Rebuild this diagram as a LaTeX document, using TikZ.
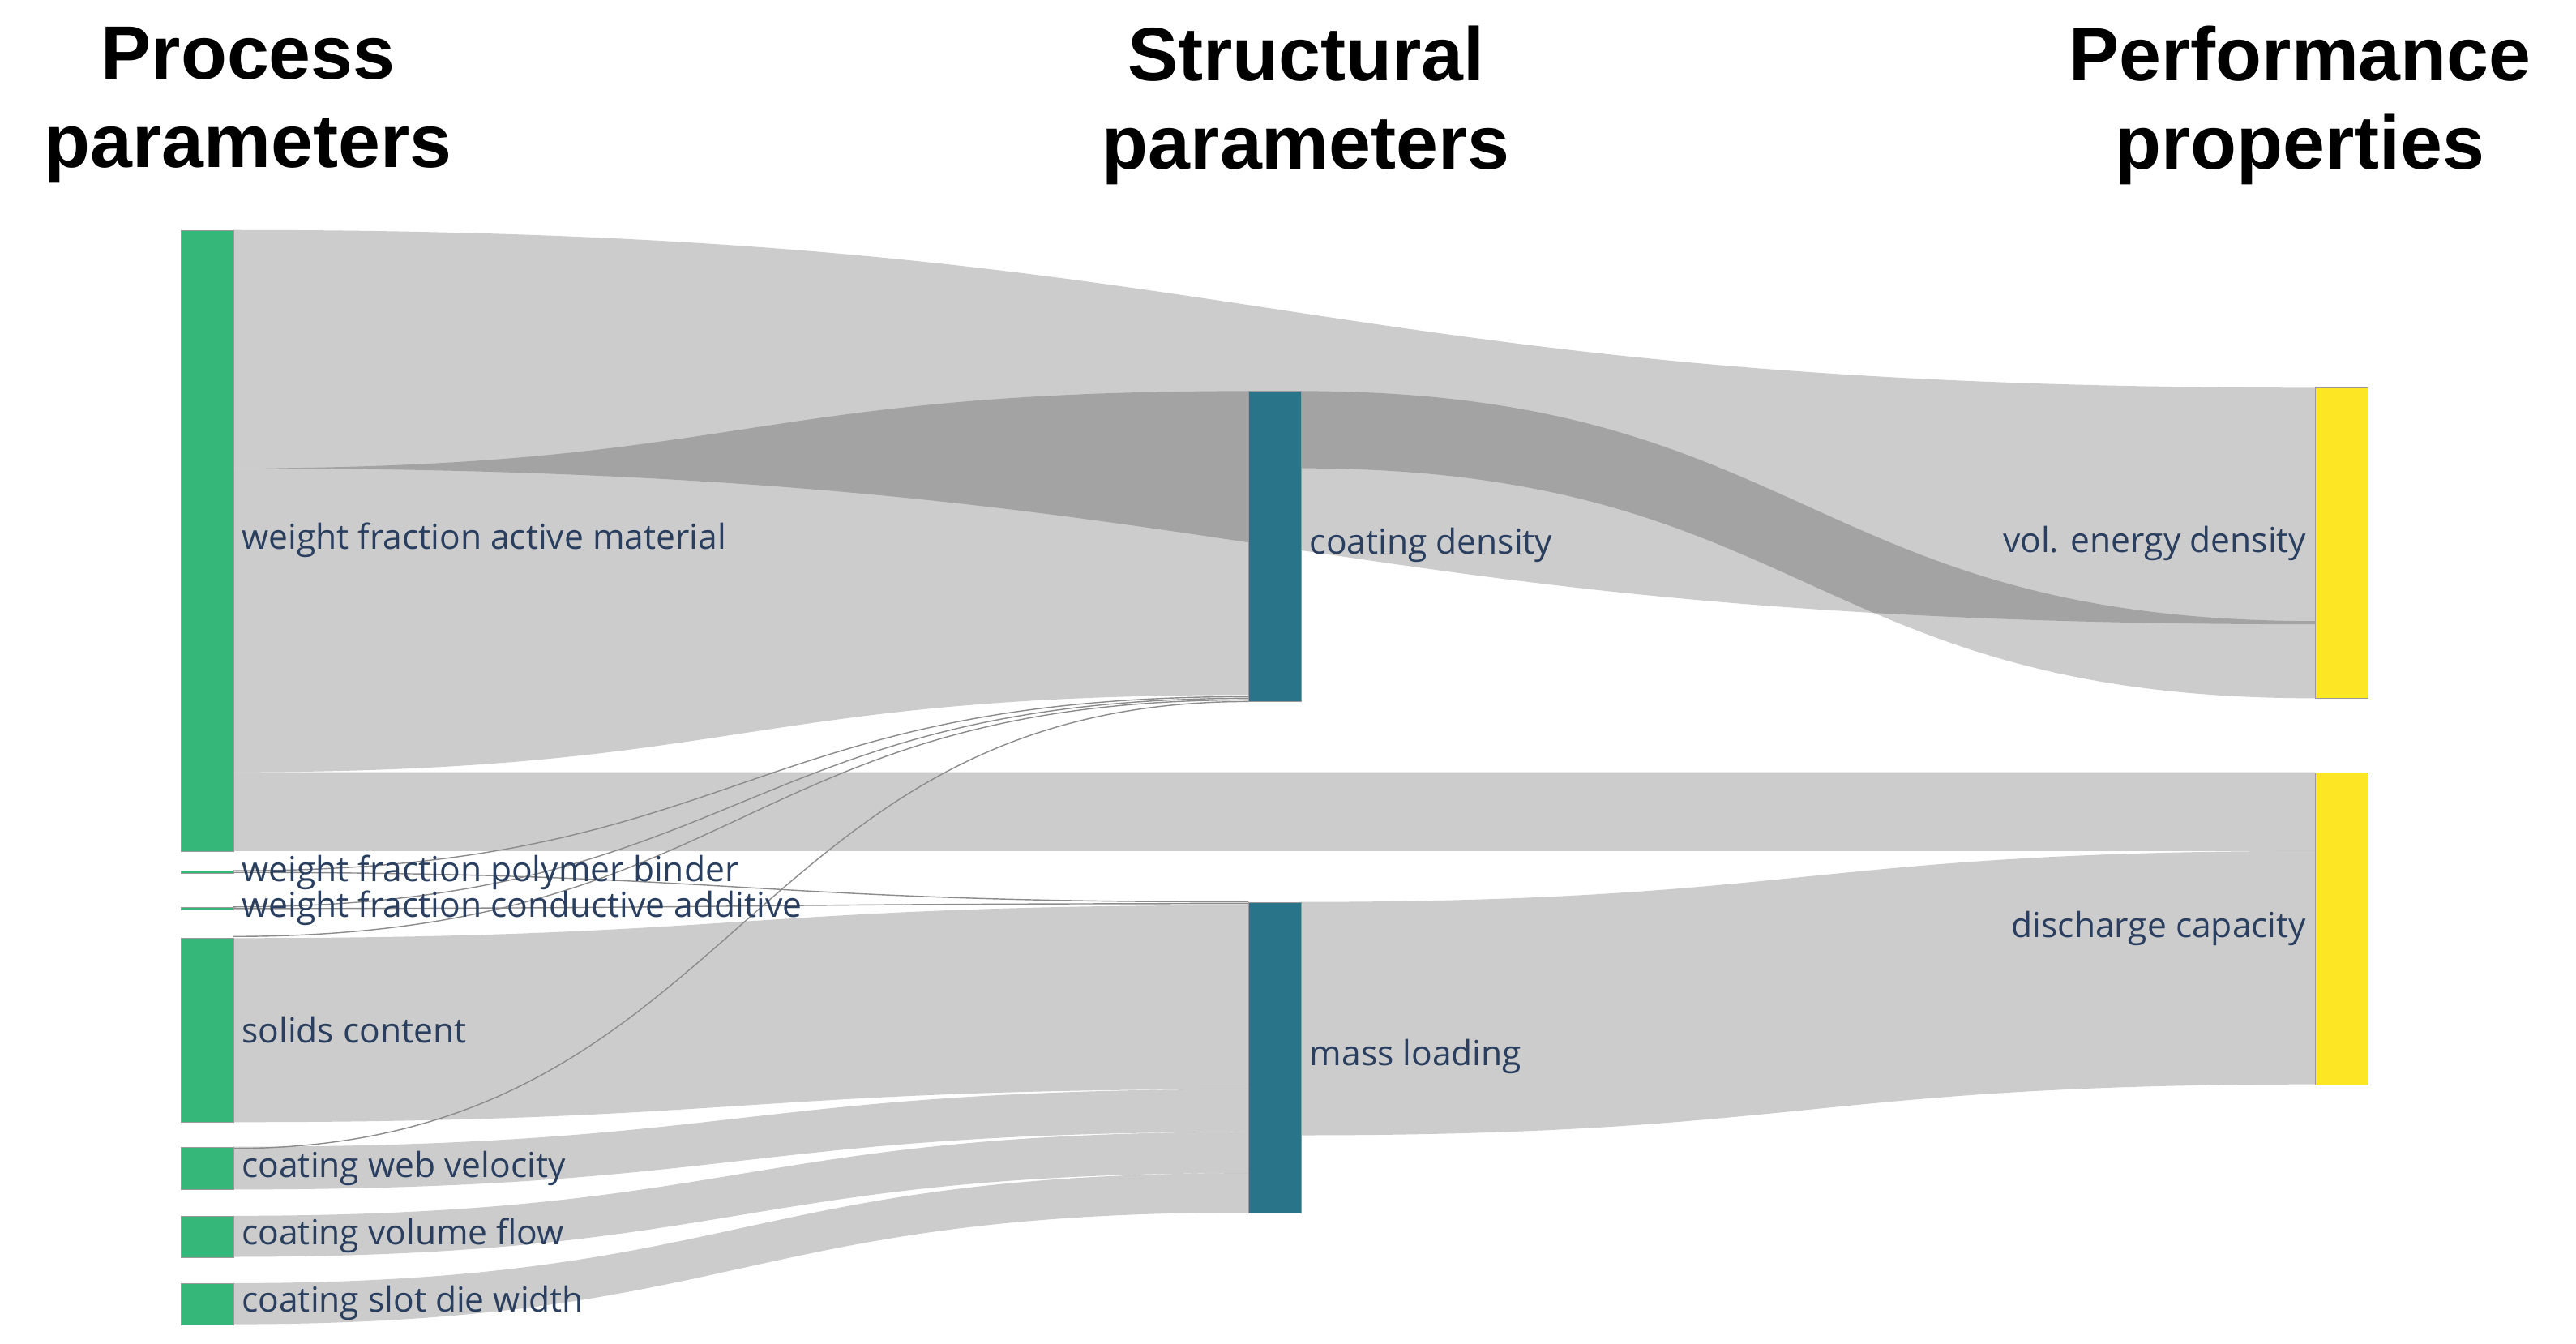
\documentclass[tikz,border=0pt]{standalone}
\usepackage{fontspec}
\setmainfont{Open Sans}
\newfontfamily\hdr{Liberation Sans}
\definecolor{pgreen}{HTML}{35B779}
\definecolor{pteal}{HTML}{2A7489}
\definecolor{pyell}{HTML}{FDE725}
\definecolor{ptext}{HTML}{2A3F5F}
\begin{document}
\begin{tikzpicture}[x=1pt,y=-1pt,
  nd/.style={draw=black!40,line width=0.5pt,inner sep=0,minimum width=32pt},
  lbl/.style={text=ptext,font=\fontsize{21}{24}\selectfont,inner sep=0},
  hd/.style={font=\hdr\bfseries\fontsize{46}{54}\selectfont,align=center,inner sep=0},
  thin/.style={draw=black!45,line width=0.7pt}]
\useasboundingbox (0,0) rectangle (1568,818);
\newcommand{\band}[6]{%
  \pgfmathsetmacro{\xm}{(#1+#4)/2}%
  \fill[black,opacity=0.2] (#1,#2) .. controls (\xm,#2) and (\xm,#5) .. (#4,#5)
    -- (#4,#6) .. controls (\xm,#6) and (\xm,#3) .. (#1,#3) -- cycle;}
\newcommand{\thinl}[4]{%
  \pgfmathsetmacro{\xm}{(#1+#3)/2}%
  \draw[thin] (#1,#2) .. controls (\xm,#2) and (\xm,#4) .. (#3,#4);}
% bands
\band{142}{140}{285}{1409}{236}{380}
\band{142}{285}{470}{760}{238}{423}
\band{142}{470}{518}{1409}{470}{518}
\band{791}{238}{285}{1409}{378}{425}
\band{142}{571}{683}{760}{551}{663}
\band{142}{698}{724}{760}{663}{689}
\band{142}{740}{765}{760}{689}{714}
\band{142}{781}{806}{760}{714}{738}
\band{791}{549}{691}{1409}{518}{660}
% thin links
\thinl{142}{530}{760}{424}
\thinl{142}{531}{760}{549}
\thinl{142}{552}{760}{425}
\thinl{142}{553}{760}{550}
\thinl{142}{570}{760}{426}
\thinl{142}{699}{760}{427}
% nodes
\node[nd,fill=pgreen,minimum height=378pt,anchor=north west] (wfam) at (110,140) {};
\node[nd,fill=pgreen,minimum height=1.5pt,anchor=north west] (wfpb) at (110,530) {};
\node[nd,fill=pgreen,minimum height=1.5pt,anchor=north west] (wfca) at (110,552) {};
\node[nd,fill=pgreen,minimum height=112pt,anchor=north west] (sc) at (110,571) {};
\node[nd,fill=pgreen,minimum height=26pt,anchor=north west] (cwv) at (110,698) {};
\node[nd,fill=pgreen,minimum height=25pt,anchor=north west] (cvf) at (110,740) {};
\node[nd,fill=pgreen,minimum height=25pt,anchor=north west] (csd) at (110,781) {};
\node[nd,fill=pteal,minimum height=189pt,anchor=north west] (cd) at (760,238) {};
\node[nd,fill=pteal,minimum height=189pt,anchor=north west] (ml) at (760,549) {};
\node[nd,fill=pyell,minimum height=189pt,anchor=north west] (ved) at (1409,236) {};
\node[nd,fill=pyell,minimum height=190pt,anchor=north west] (dc) at (1409,470) {};
% labels
\node[lbl,anchor=west] at (147,329) {weight fraction active material};
\node[lbl,anchor=west] at (147,531) {weight fraction polymer binder};
\node[lbl,anchor=west] at (147,553) {weight fraction conductive additive};
\node[lbl,anchor=west] at (147,627) {solids content};
\node[lbl,anchor=west] at (147,711) {coating web velocity};
\node[lbl,anchor=west] at (147,752) {coating volume flow};
\node[lbl,anchor=west] at (147,793) {coating slot die width};
\node[lbl,anchor=west] at (797,332) {coating density};
\node[lbl,anchor=west] at (797,643) {mass loading};
\node[lbl,anchor=east] at (1404,331) {vol. energy density};
\node[lbl,anchor=east] at (1404,565) {discharge capacity};
% headers
\node[hd] at (151,64) {Process\\parameters};
\node[hd] at (795,64) {Structural\\parameters};
\node[hd] at (1400,64) {Performance\\properties};
\end{tikzpicture}
\end{document}
